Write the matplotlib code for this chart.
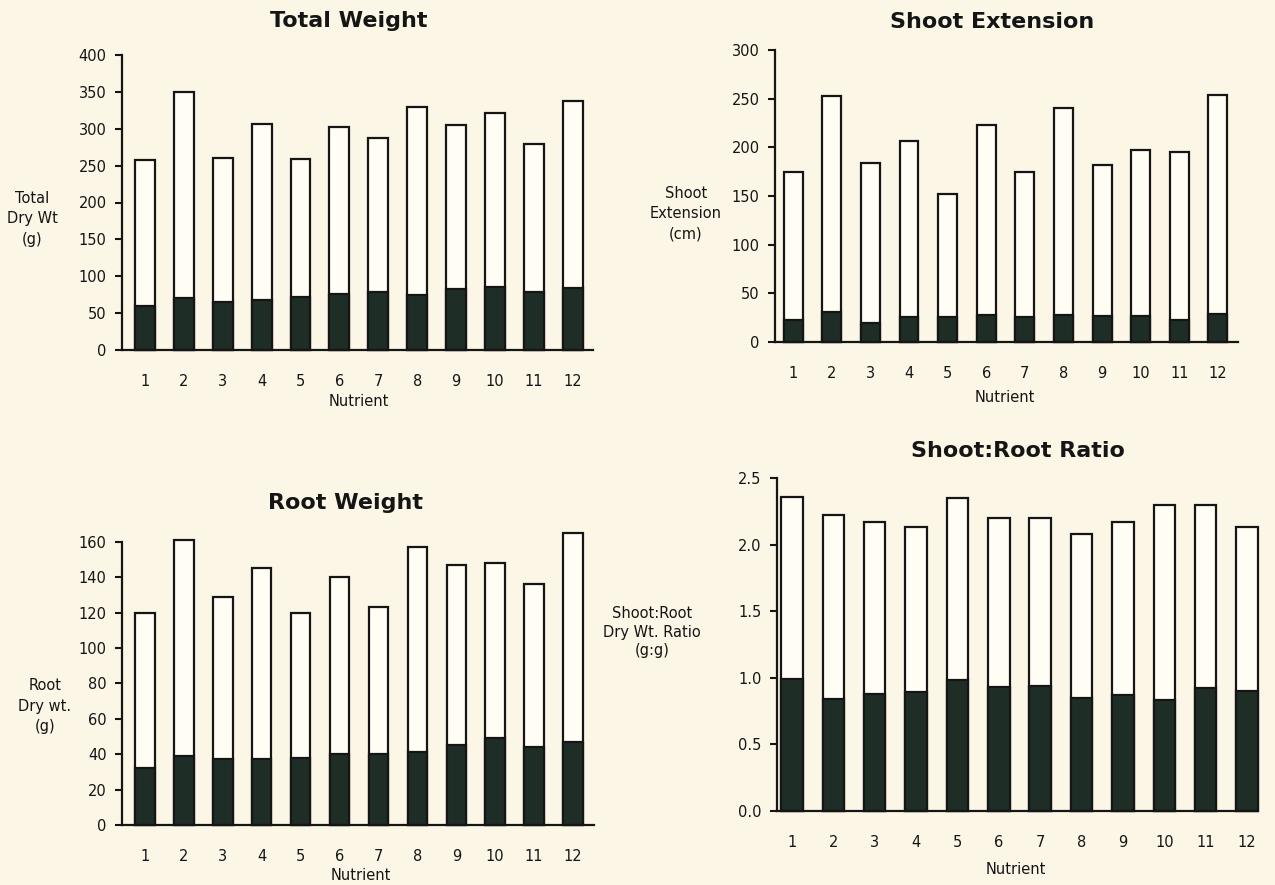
import numpy as np
import matplotlib
matplotlib.use("Agg")
import matplotlib.pyplot as plt

plt.rcParams['font.family'] = ['DejaVu Sans']

# ----------------- Data -----------------
nutrients = list(range(1, 13))

total_weight = [258, 350, 261, 307, 259, 303, 287, 329, 305, 321, 280, 338]
total_weight_dark = [59, 71, 65, 68, 72, 76, 78, 74, 83, 86, 78, 84]

shoot_ext = [175, 253, 184, 207, 152, 223, 175, 240, 182, 197, 195, 254]
shoot_ext_dark = [23, 31, 20, 26, 26, 28, 26, 28, 27, 27, 23, 29]

root_weight = [120, 161, 129, 145, 120, 140, 123, 157, 147, 148, 136, 165]
root_weight_dark = [32, 39, 37, 37, 38, 40, 40, 41, 45, 49, 44, 47]

sr_ratio = [2.36, 2.22, 2.17, 2.13, 2.35, 2.20, 2.20, 2.08, 2.17, 2.30, 2.30, 2.13]
sr_ratio_dark = [0.99, 0.84, 0.88, 0.89, 0.98, 0.93, 0.94, 0.85, 0.87, 0.83, 0.92, 0.90]

BG = '#fbf6e6'
BAR_LIGHT = '#fffdf4'
BAR_DARK = '#1e2e27'
INK = '#151515'

W, H = 1275, 885
fig = plt.figure(figsize=(W / 100, H / 100), dpi=100, facecolor=BG)


def px_axes(left, right, top, bottom):
    return fig.add_axes([left / W, 1 - bottom / H, (right - left) / W, (bottom - top) / H])


def panel(ax, totals, darks, ymax, ystep, ylim_top, xlim, width, fmt):
    ax.set_facecolor('none')
    ax.bar(nutrients, totals, width=width, color=BAR_LIGHT, edgecolor=INK,
           linewidth=1.6, zorder=2, clip_on=False)
    ax.bar(nutrients, darks, width=width, color=BAR_DARK, edgecolor=INK,
           linewidth=1.6, zorder=3, clip_on=False)
    ax.set_xlim(*xlim)
    ax.set_ylim(0, ylim_top)
    ax.set_xticks(nutrients)
    ax.set_xticklabels([str(n) for n in nutrients])
    ticks = np.arange(0, ymax + ystep / 2, ystep)
    ax.set_yticks(ticks)
    ax.set_yticklabels([fmt.format(t) for t in ticks])
    ax.tick_params(axis='x', length=0, pad=17, labelsize=10.5, labelcolor=INK)
    ax.tick_params(axis='y', direction='out', length=5, width=1.5, pad=6,
                   labelsize=10.5, labelcolor=INK, color=INK)
    for side in ['top', 'right']:
        ax.spines[side].set_visible(False)
    for side in ['left', 'bottom']:
        ax.spines[side].set_linewidth(1.6)
        ax.spines[side].set_color(INK)
    ax.spines['left'].set_bounds(0, ymax)
    ax.spines['bottom'].set_zorder(4)


def fig_text(x, y, s, **kw):
    fig.text(x / W, 1 - y / H, s, ha='center', va='center', color=INK, **kw)


# ----------------- Total Weight -----------------
ax1 = px_axes(122, 593, 55, 350)
panel(ax1, total_weight, total_weight_dark, 400, 50, 400, (0.41, 12.52), 0.51, '{:.0f}')
fig_text(349, 21, 'Total Weight', fontsize=16, fontweight='bold')
fig_text(32, 219, 'Total\nDry Wt\n(g)', fontsize=10.5, linespacing=1.45)
fig_text(359, 401, 'Nutrient', fontsize=10.5)

# ----------------- Shoot Extension -----------------
ax2 = px_axes(775, 1238, 50, 342)
panel(ax2, shoot_ext, shoot_ext_dark, 300, 50, 300, (0.53, 12.52), 0.49, '{:.0f}')
fig_text(992, 22, 'Shoot Extension', fontsize=16, fontweight='bold')
fig_text(686, 214, 'Shoot\nExtension\n(cm)', fontsize=10.5, linespacing=1.45)
fig_text(1005, 398, 'Nutrient', fontsize=10.5)

# ----------------- Root Weight -----------------
ax3 = px_axes(122, 594, 524, 825)
panel(ax3, root_weight, root_weight_dark, 160, 20, 170, (0.41, 12.54), 0.5, '{:.0f}')
fig_text(345, 503, 'Root Weight', fontsize=16, fontweight='bold')
fig_text(45, 706, 'Root\nDry wt.\n(g)', fontsize=10.5, linespacing=1.45)
fig_text(361, 875, 'Nutrient', fontsize=10.5)

# ----------------- Shoot:Root Ratio -----------------
ax4 = px_axes(777, 1257, 478, 811)
panel(ax4, sr_ratio, sr_ratio_dark, 2.5, 0.5, 2.5, (0.64, 12.24), 0.52, '{:.1f}')
fig_text(1018, 451, 'Shoot:Root Ratio', fontsize=16, fontweight='bold')
fig_text(652, 632, 'Shoot:Root\nDry Wt. Ratio\n(g:g)', fontsize=10.5, linespacing=1.3)
fig_text(1016, 869, 'Nutrient', fontsize=10.5)

fig.savefig('out.png', dpi=100, facecolor=BG)
